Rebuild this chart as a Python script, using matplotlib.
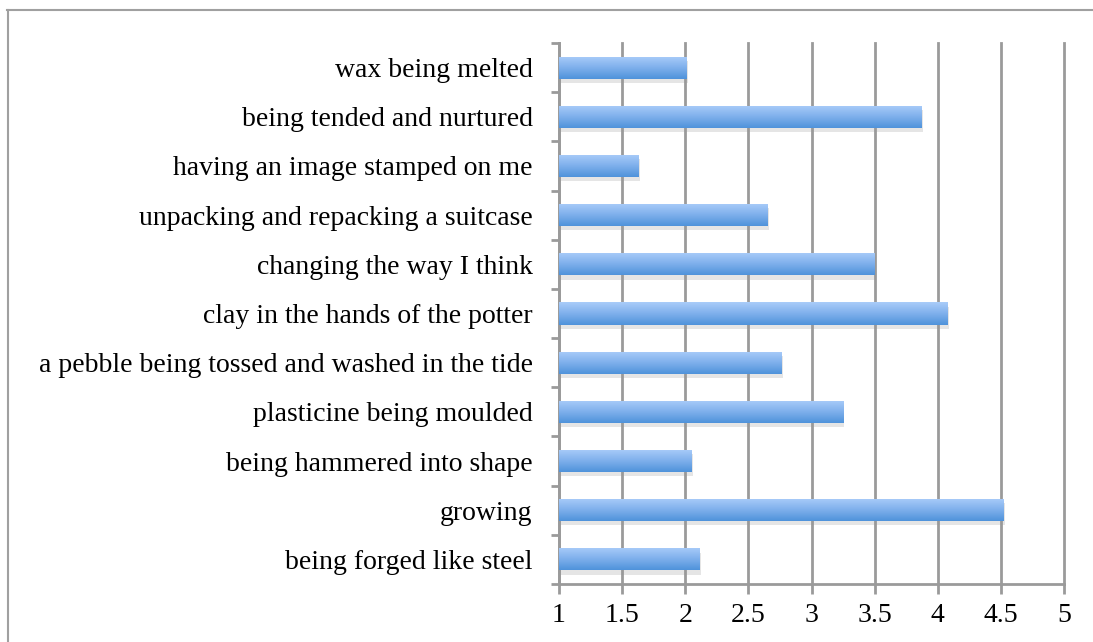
import numpy as np
import matplotlib
matplotlib.use("Agg")
import matplotlib.pyplot as plt
from matplotlib.colors import LinearSegmentedColormap
from matplotlib.lines import Line2D
import matplotlib.patheffects as pe

# bottom to top, as drawn
labels = [
    "being forged like steel",
    "growing",
    "being hammered into shape",
    "plasticine being moulded",
    "a pebble being tossed and washed in the tide",
    "clay in the hands of the potter",
    "changing the way I think",
    "unpacking and repacking a suitcase",
    "having an image stamped on me",
    "being tended and nurtured",
    "wax being melted",
]
values = [2.11, 4.52, 2.05, 3.25, 2.76, 4.08, 3.50, 2.65, 1.63, 3.87, 2.01]
x_ticks = [1, 1.5, 2, 2.5, 3, 3.5, 4, 4.5, 5]
x_ticklabels = ["1", "1.5", "2", "2.5", "3", "3.5", "4", "4.5", "5"]

plt.rcParams["font.family"] = ["Liberation Serif", "DejaVu Serif"]
grid_col = "#9a9a9a"

fig = plt.figure(figsize=(10.93, 6.42), dpi=100)
ax = fig.add_axes([559 / 1093, 1 - 584 / 642, (1064 - 559) / 1093, (584 - 43) / 642])

ypos = np.arange(len(labels))
bars = ax.barh(ypos, [v - 1 for v in values], left=1, height=0.45,
               facecolor="none", edgecolor="none", zorder=3)

grad = LinearSegmentedColormap.from_list("bar", ["#4f93db", "#7fb0ec", "#a9ccf9"])
gimg = np.linspace(0, 1, 64).reshape(-1, 1)
for b in bars:
    b.set_path_effects([pe.SimplePatchShadow(offset=(1, -3), shadow_rgbFace="#999999", alpha=0.25),
                        pe.Normal()])
    x0, y0 = b.get_x(), b.get_y()
    im = ax.imshow(gimg, cmap=grad, aspect="auto", origin="lower",
                   extent=[x0, x0 + b.get_width(), y0, y0 + b.get_height()],
                   interpolation="bilinear", zorder=4)
    im.set_clip_path(b)

ax.set_xlim(1, 5)
ax.set_ylim(-0.5, len(labels) - 0.5)
ax.set_xticks(x_ticks)
ax.set_xticklabels(x_ticklabels, fontsize=20)
ax.set_yticks(ypos)
ax.set_yticklabels(labels, fontsize=20)
ax.set_yticks(np.arange(-0.5, len(labels), 1), minor=True)
ax.tick_params(axis="y", which="major", length=0, pad=19)
ax.tick_params(axis="y", which="minor", length=6, width=2, color=grid_col, direction="out")
ax.tick_params(axis="x", length=7, width=2, color=grid_col, direction="out", pad=7)

ax.grid(axis="x", color=grid_col, linewidth=2)
for gl in ax.get_xgridlines():
    gl.set_clip_on(False)
ax.set_axisbelow(True)
for s in ["top", "right"]:
    ax.spines[s].set_visible(False)
for s in ["left", "bottom"]:
    ax.spines[s].set_color(grid_col)
    ax.spines[s].set_linewidth(2)

# outer frame (only top and left edges visible)
fig.add_artist(Line2D([7 / 1093, 1], [1 - 9.5 / 642, 1 - 9.5 / 642], color="#a0a0a0", lw=1.5,
                      transform=fig.transFigure))
fig.add_artist(Line2D([7.5 / 1093, 7.5 / 1093], [0, 1 - 9.5 / 642], color="#a0a0a0", lw=1.5,
                      transform=fig.transFigure))

fig.savefig("out.png", dpi=100)
